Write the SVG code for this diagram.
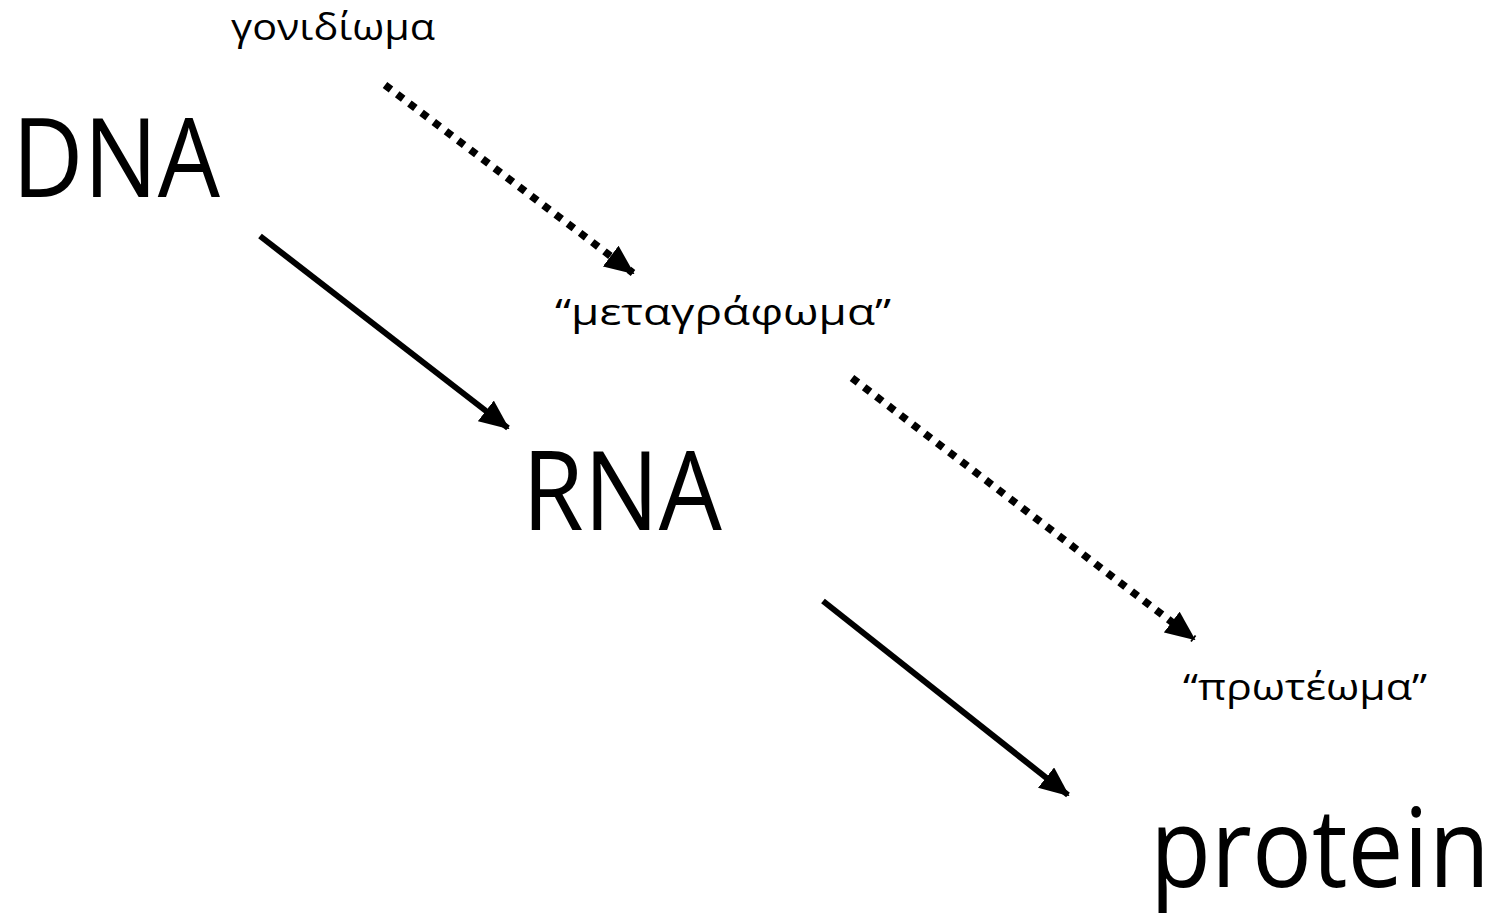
<svg xmlns="http://www.w3.org/2000/svg" width="1503" height="920" viewBox="0 0 1503 920">
<style>
.big{font-family:"Open Sans","Noto Sans","Liberation Sans",sans-serif;font-size:110px;fill:#000}
.small{font-family:"Open Sans","Noto Sans","Liberation Sans",sans-serif;font-size:37px;fill:#000}
.solid{stroke:#000;stroke-width:6;fill:none}
.dot{stroke:#000;stroke-width:7.5;fill:none;stroke-dasharray:7.5 7.8}
</style>
<defs>
<marker id="ah" markerUnits="userSpaceOnUse" markerWidth="30" markerHeight="26" refX="28" refY="13" orient="auto" viewBox="0 0 30 26">
<path d="M0,0 L30,13 L0,26 Z" fill="#000"/>
</marker>
</defs>
<rect width="1503" height="920" fill="#fff"/>
<g id="connectors">
<line class="solid" x1="260" y1="236" x2="508" y2="428" marker-end="url(#ah)"/>
<line class="solid" x1="823" y1="601" x2="1068" y2="795" marker-end="url(#ah)"/>
<line class="dot" x1="385" y1="85" x2="633" y2="273" marker-end="url(#ah)"/>
<line class="dot" x1="852" y1="378" x2="1194" y2="639" marker-end="url(#ah)"/>
</g>
<g id="node-genome"><text class="small" x="231" y="40" textLength="204" lengthAdjust="spacingAndGlyphs">γονιδίωμα</text></g>
<g id="node-dna"><text class="big" x="12" y="197" textLength="208" lengthAdjust="spacingAndGlyphs">DNA</text></g>
<g id="node-transcriptome"><text class="small" x="555" y="325" textLength="336" lengthAdjust="spacingAndGlyphs">“μεταγράφωμα”</text></g>
<g id="node-rna"><text class="big" x="522" y="530" textLength="200" lengthAdjust="spacingAndGlyphs">RNA</text></g>
<g id="node-proteome"><text class="small" x="1183" y="700" textLength="244" lengthAdjust="spacingAndGlyphs">“πρωτέωμα”</text></g>
<g id="node-protein"><text class="big" x="1490" y="887" font-size="100" text-anchor="end" textLength="340" lengthAdjust="spacingAndGlyphs">protein</text></g>
</svg>
